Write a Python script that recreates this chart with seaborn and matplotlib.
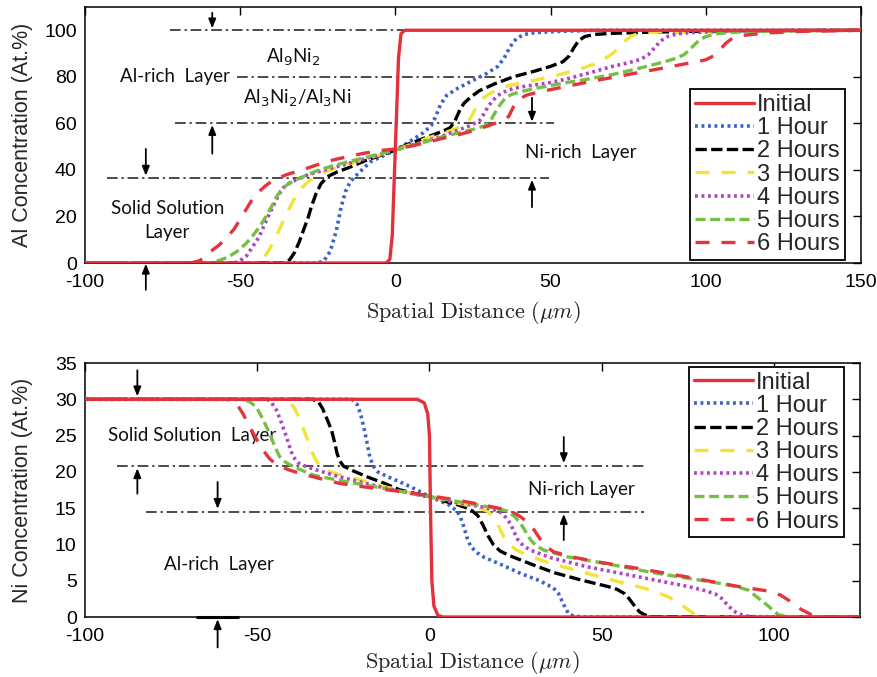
import matplotlib
matplotlib.use("Agg")
import matplotlib.pyplot as plt
import seaborn as sns
import pandas as pd

# ---------------- DATA ----------------
series_names = ["Initial", "1 Hour", "2 Hours", "3 Hours", "4 Hours", "5 Hours", "6 Hours"]

# Top panel: Al concentration (At.%) vs spatial distance (um)
al_x_initial = [-100, -3, -1.8, -1.0, -0.4, 0.0, 0.4, 1.0, 1.8, 3, 150]
al_y_initial = [0, 0, 1.5, 12, 35, 50, 65, 88, 98.5, 100, 100]

al_x_1h = [-100, -25, -23, -21, -19, -17.5, -16, -14.5, -12, -8, -4, 0, 5, 9, 11.5, 13, 14.5,
           16.5, 20, 25, 29.5, 33, 35, 37, 39, 41.5, 45, 52, 65, 150]
al_y_1h = [0, 0, 1, 5, 14, 24, 31, 35, 38.5, 43.5, 46, 48.5, 52.5, 56, 59, 63, 68,
           72, 75, 78.5, 81.5, 84.5, 88, 93, 96.5, 98.2, 99, 99.5, 100, 100]

al_x_2h = [-100, -36, -34, -32.5, -31, -29.5, -28, -27, -25.5, -24, -22, -19, -15, -10, -5, 0,
           4, 8, 12, 15, 17.5, 19, 20.5, 22, 24, 27, 32, 38, 45, 50, 54, 56, 57.5, 59, 61,
           64, 70, 80, 90, 110, 150]
al_y_2h = [0, 0, 1.5, 4.5, 9, 14.5, 20, 24.5, 30, 34, 37, 39, 41, 43.8, 46.2, 48.5,
           51, 53, 55, 56.5, 58, 60.5, 65, 68.5, 71, 74, 77, 80, 82.5, 84.5, 86.5, 89, 92.5, 95.5, 97.3,
           98.2, 98.7, 99.1, 99.4, 99.8, 100]

al_x_3h = [-100, -45, -43.5, -42, -40.5, -39, -37.5, -36, -34.5, -33, -31.5, -30, -28.5, -26,
           -23, -20, -15, -10, -5, 0, 5, 10, 13.5, 17, 20, 23, 24.5, 26, 28, 30, 32.5, 36, 40,
           44, 50, 55, 60, 64, 67, 70, 72.5, 74.5, 76, 78, 81, 85, 95, 110, 150]
al_y_3h = [0, 0, 1, 3, 6, 10, 14, 18.5, 22.5, 26.5, 30, 32.5, 34.5, 37,
           39, 40.5, 42.5, 44.5, 46.5, 48.5, 51, 53.5, 55, 56.5, 58, 60, 63, 67, 70.5, 72.5, 74.2, 76, 77.3,
           78.3, 80, 81.7, 83.5, 85.5, 87.5, 90, 93, 96, 97.5, 98.5, 99, 99.3, 99.6, 99.8, 100]

al_x_4h = [-100, -52, -50, -48, -46, -44, -42.5, -41, -39, -37.5, -36, -34, -31.5, -28, -24,
           -20, -15, -10, -5, 0, 5, 10, 15, 20, 24, 27, 28.5, 30, 31.5, 33, 35, 38, 42, 49, 55,
           62, 70, 75, 79, 81.5, 83.5, 85.5, 88, 91, 95, 105, 120, 150]
al_y_4h = [0, 0, 1, 3, 7, 11, 15.5, 20, 25.5, 29.5, 32.5, 34.5, 36, 38, 39.5,
           41, 42.8, 44.7, 46.6, 48.5, 50.5, 52.5, 54.5, 57, 59, 61, 64, 67.5, 70, 72, 73.5, 75, 76, 77.3, 79,
           81.5, 84.5, 86, 87.5, 89.5, 92.5, 95.5, 97.5, 98.5, 99, 99.5, 99.8, 100]

al_x_5h = [-100, -60, -57, -54, -51, -48, -45.5, -43.5, -41.5, -40, -38.5, -37, -35, -32.5, -29,
           -25, -20, -15, -10, -5, 0, 5, 10, 15, 20, 25, 29, 31, 32.5, 34, 35.5, 37.5, 41, 45,
           49, 55, 62, 70, 78, 86.5, 90, 93, 95, 97.3, 99.5, 103, 110, 120, 150]
al_y_5h = [0, 0, 1, 2.5, 5, 8.5, 12.5, 16, 20.5, 24, 28, 31, 33.5, 35.5, 37.5,
           39.8, 41.8, 43.6, 45.2, 47, 48.5, 50.3, 52.2, 54.2, 55.8, 57.4, 59, 62, 65.5, 68.5, 71, 72.5, 73.8, 75,
           76, 77.5, 79, 81, 83.5, 86.4, 87.8, 89.5, 92, 95, 97, 98.5, 99.2, 99.6, 100]

al_x_6h = [-100, -66, -63, -60, -57, -55, -52, -49, -46.5, -44.5, -42, -40, -38, -35, -30, -25,
           -20, -15, -10, -5, 0, 5, 10, 15, 20, 25, 30, 35, 36.5, 38, 39.5, 42, 46, 50, 55.5,
           65, 77, 86, 95, 100, 102.5, 104.5, 106.5, 108.5, 112, 119, 130, 150]
al_y_6h = [0, 0, 1, 4.5, 7.5, 10, 14.5, 21, 26.5, 30, 33, 35, 36.3, 38, 40, 42.3,
           44.3, 45.8, 47.2, 48.3, 49, 50.2, 51.8, 53.5, 55, 56.8, 59, 61.4, 63, 67, 70, 72, 73.5, 74.5, 76,
           78.5, 81.5, 83.7, 86, 87.3, 89, 91.5, 94.5, 96.5, 97.8, 98.8, 99.5, 100]

# Bottom panel: Ni concentration (At.%) vs spatial distance (um)
ni_x_initial = [-100, -3.5, -1.5, -0.5, 0.0, 0.3, 0.7, 1.3, 2.5, 4, 125]
ni_y_initial = [30, 30, 29.5, 28, 25, 15, 5, 1.5, 0.2, 0, 0]

ni_x_1h = [-100, -22.5, -21, -20, -19, -18.2, -17.3, -16.3, -15, -12, -8.5, -4, 0, 3, 5.5, 8,
           9, 10, 11, 12, 14, 16, 20, 26.5, 32, 36, 37.5, 38.5, 39.5, 40.5, 42, 45, 125]
ni_y_1h = [30, 30, 29.3, 28, 26, 24.2, 22, 20.8, 20, 19.3, 18.6, 17.6, 16.6, 16, 15.5, 14.6,
           13.8, 12.4, 10.8, 9.7, 8.8, 8.2, 7.4, 6, 5, 4, 3.2, 2.2, 1.2, 0.4, 0.1, 0, 0]

ni_x_2h = [-100, -34, -32.3, -31, -29.5, -28.4, -27.5, -26.8, -26, -25, -22, -18, -13, -8.5, -4,
           0, 4, 8, 11, 12.5, 14, 15.5, 17, 18.5, 20.5, 23, 30, 36.3, 44, 51.8, 54.5, 56.7, 58,
           59.6, 61, 62.5, 64, 125]
ni_y_2h = [30, 30, 29.7, 28.7, 27, 25.7, 24, 22.5, 21.5, 20.8, 20.1, 19.3, 18.4, 17.5, 17,
           16.6, 16, 15.5, 15, 14.6, 14, 12.7, 11.2, 10, 9.1, 8.5, 7.2, 6.1, 5.1, 4.2, 3.8, 3.2, 2.5,
           1.5, 0.7, 0.3, 0.05, 0]

ni_x_3h = [-100, -42, -40.5, -39.2, -38, -36.8, -35.7, -34.5, -33.2, -31.8, -29.8, -26, -20, -15,
           -10, -5, 0, 5, 10, 14, 16.8, 18.3, 19.7, 21.2, 22.6, 25, 28.5, 35, 46, 53, 60.5, 65,
           69.3, 72.5, 75.1, 77, 79, 125]
ni_y_3h = [30, 30, 29.5, 28.8, 27.6, 26.2, 24.8, 23.2, 21.8, 20.8, 20.2, 19.6, 18.9, 18.2,
           17.6, 17, 16.5, 16, 15.5, 15.1, 14.6, 13.9, 12.9, 11.4, 10.3, 9.3, 8.5, 7.4, 6, 5.1, 4.2, 3.6,
           2.8, 1.9, 1, 0.4, 0.05, 0]

ni_x_4h = [-100, -47, -45.8, -44.4, -43, -41.5, -40.5, -39.6, -38, -35.7, -31, -26, -20, -15,
           -10, -5, 0, 5, 10, 15, 18.5, 20.7, 22.2, 23.6, 24.6, 25.6, 27.3, 29.4, 35, 46, 60,
           75.1, 79.5, 82.9, 85, 86.8, 88.8, 90.7, 93, 125]
ni_y_4h = [30, 30, 29.5, 28.5, 26.8, 24.8, 23.3, 22.1, 21.2, 20.7, 20, 19.3, 18.6, 18,
           17.5, 17, 16.5, 16, 15.6, 15.2, 14.8, 14.4, 13.7, 12.8, 11.7, 10.7, 9.8, 9.2, 8.2, 6.9, 5.6,
           4.2, 3.7, 3.2, 2.5, 1.5, 0.7, 0.3, 0.05, 0]

ni_x_5h = [-100, -54, -52, -50.2, -48.3, -46.4, -45, -43.5, -42, -40.6, -37, -33.4, -27, -20,
           -13, -6, 0, 6, 12, 18, 22.6, 24.6, 26.5, 28, 29.4, 31, 33.3, 40, 50.8, 65, 84.8, 89,
           92.6, 95.5, 98.4, 100, 101.4, 104, 125]
ni_y_5h = [30, 30, 29.6, 28.9, 27.2, 25.3, 23.6, 22.1, 21.4, 21, 20.2, 19.5, 18.9, 18.3,
           17.7, 17.1, 16.6, 16.1, 15.6, 15.1, 14.6, 13.9, 12.9, 11.7, 10.6, 9.8, 9.2, 8.3, 7.4, 6.1, 4.6, 4.2,
           3.7, 2.6, 1.5, 0.8, 0.3, 0.05, 0]

ni_x_6h = [-100, -59, -57.5, -56, -54, -52.2, -50.2, -48.3, -46.4, -44.4, -41, -37.6, -32, -26,
           -17, -8.5, 0, 7, 15, 20, 24, 26.5, 29.4, 31.5, 33.3, 36, 41.1, 50, 60.5, 75, 89.7,
           99.4, 102, 104.3, 106, 108.1, 111, 114, 125]
ni_y_6h = [30, 30, 29.8, 29.4, 27.9, 26.2, 24.5, 23, 21.8, 21, 20.3, 19.8, 19.1, 18.4,
           17.8, 17.3, 16.7, 16.2, 15.5, 15, 14.5, 13.8, 12.7, 11.2, 9.9, 9, 8.3, 7.5, 6.7, 5.5, 4.2,
           3.5, 3, 2.3, 1.6, 1, 0.3, 0.05, 0]

# Layer boundaries (At.%) drawn as dash-dot guides
al_boundaries = [100, 80, 60, 36.5]
ni_boundaries = [20.8, 14.5]

al_x_data = [al_x_initial, al_x_1h, al_x_2h, al_x_3h, al_x_4h, al_x_5h, al_x_6h]
al_y_data = [al_y_initial, al_y_1h, al_y_2h, al_y_3h, al_y_4h, al_y_5h, al_y_6h]
ni_x_data = [ni_x_initial, ni_x_1h, ni_x_2h, ni_x_3h, ni_x_4h, ni_x_5h, ni_x_6h]
ni_y_data = [ni_y_initial, ni_y_1h, ni_y_2h, ni_y_3h, ni_y_4h, ni_y_5h, ni_y_6h]


def long_frame(xs, ys):
    rows = []
    for name, xv, yv in zip(series_names, xs, ys):
        for i, (a, b) in enumerate(zip(xv, yv)):
            rows.append({"series": name, "x": a, "y": b, "order": i})
    return pd.DataFrame(rows)


df_al = long_frame(al_x_data, al_y_data)
df_ni = long_frame(ni_x_data, ni_y_data)

# ---------------- STYLE ----------------
sns.set_style("white")
plt.rcParams["font.family"] = ["Liberation Sans", "DejaVu Sans"]
plt.rcParams["axes.unicode_minus"] = False

styles = {
    "Initial": dict(color="#e2313b", ls="-", lw=2.4, zorder=6),
    "1 Hour": dict(color="#3d62c6", ls=(0, (0.8, 1.0)), lw=2.6, zorder=4),
    "2 Hours": dict(color="#000000", ls=(0, (3.4, 1.3)), lw=2.4, zorder=4),
    "3 Hours": dict(color="#f2e335", ls=(0, (4.2, 3.6)), lw=2.4, zorder=4),
    "4 Hours": dict(color="#b044c4", ls=(0, (0.8, 1.0)), lw=2.6, zorder=4),
    "5 Hours": dict(color="#73c044", ls=(0, (3.0, 1.4)), lw=2.4, zorder=4),
    "6 Hours": dict(color="#e3343f", ls=(0, (4.2, 3.6)), lw=2.4, zorder=5),
}

fig = plt.figure(figsize=(8.78, 6.77), dpi=100)
ax1 = fig.add_axes([85 / 878, 1 - 263 / 677, 776 / 878, 256 / 677])
ax2 = fig.add_axes([85 / 878, 1 - 617 / 677, 775 / 878, 254 / 677])


def draw_curves(ax, df):
    for name in series_names:
        st = styles[name]
        sub = df[df["series"] == name].sort_values("order")
        sns.lineplot(data=sub, x="x", y="y", ax=ax, sort=False, estimator=None,
                     color=st["color"], linestyle=st["ls"], linewidth=st["lw"],
                     label=name, zorder=st["zorder"])


draw_curves(ax1, df_al)
draw_curves(ax2, df_ni)

ann_font = dict(family="Lato", fontsize=13.5, color="#111111")
guide = dict(color="#1a1a1a", lw=1.1, ls=(0, (7, 2.5, 1.5, 2.5)), zorder=2)
arrow = dict(arrowstyle="-|>,head_length=0.55,head_width=0.22", color="k", lw=1.3,
             shrinkA=0, shrinkB=0)


def arr(ax, x, y0, y1):
    ax.annotate("", xy=(x, y1), xytext=(x, y0), arrowprops=arrow, annotation_clip=False)


# ---- top panel annotations ----
ax1.plot([-72.5, 5], [al_boundaries[0]] * 2, **guide)
ax1.plot([-51, 34], [al_boundaries[1]] * 2, **guide)
ax1.plot([-71, 51], [al_boundaries[2]] * 2, **guide)
ax1.plot([-93, 49.5], [al_boundaries[3]] * 2, **guide)
arr(ax1, -59, 107.5, 100.8)
arr(ax1, -59, 47, 59.3)
arr(ax1, -80.4, 49, 37.5)
arr(ax1, -80.4, -11.5, -0.3)
arr(ax1, 44, 71, 60.7)
arr(ax1, 44, 24, 35.8)
ax1.text(-33, 88.4, "Al$_9$Ni$_2$", ha="center", va="center", math_fontfamily="dejavusans", **ann_font)
ax1.text(-71, 80, "Al-rich  Layer", ha="center", va="center", **ann_font)
ax1.text(-31.6, 70.8, "Al$_3$Ni$_2$/Al$_3$Ni", ha="center", va="center",
         math_fontfamily="dejavusans", **ann_font)
ax1.text(-73.5, 18.3, "Solid Solution\nLayer", ha="center", va="center", linespacing=1.5, **ann_font)
ax1.text(59.7, 47.6, "Ni-rich  Layer", ha="center", va="center", **ann_font)

# ---- bottom panel annotations ----
ax2.plot([-90.6, 62.4], [ni_boundaries[0]] * 2, **guide)
ax2.plot([-82.3, 62.4], [ni_boundaries[1]] * 2, **guide)
arr(ax2, -84.8, 34, 30.4)
arr(ax2, -84.8, 17, 20.5)
arr(ax2, -61.5, 18.6, 14.9)
arr(ax2, -61.5, -4.2, -0.3)
arr(ax2, 39, 24.8, 21.2)
arr(ax2, 39, 10.6, 14.2)
ax2.plot([-67.5, -55.7], [0, 0], color="k", lw=2.2, clip_on=False, zorder=7)
ax2.text(-68.8, 25, "Solid Solution  Layer", ha="center", va="center", **ann_font)
ax2.text(-61, 7.2, "Al-rich  Layer", ha="center", va="center", **ann_font)
ax2.text(44, 17.6, "Ni-rich Layer", ha="center", va="center", **ann_font)

# ---- axes formatting ----
xlabel = r"$\mathrm{Spatial\ Distance}\ (\mu m)$"
for ax in (ax1, ax2):
    ax.tick_params(direction="in", top=True, right=True, length=6, width=1,
                   labelsize=14, colors="k")
    ax.tick_params(axis="x", pad=8)
    ax.tick_params(axis="y", pad=6)
    for sp in ax.spines.values():
        sp.set_color("k")
        sp.set_linewidth(1.1)
    ax.set_xlabel(xlabel, fontsize=16, math_fontfamily="cm", color="#222222")

ax1.set_xlim(-100, 150)
ax1.set_ylim(0, 110)
ax1.set_xticks([-100, -50, 0, 50, 100, 150])
ax1.set_yticks([0, 20, 40, 60, 80, 100])
ax1.set_ylabel("Al Concentration (At.%)", fontsize=15.5)
ax1.yaxis.set_label_coords(-0.067, 0.5)
ax1.xaxis.set_label_coords(0.5, -0.14)

ax2.set_xlim(-100, 125)
ax2.set_ylim(0, 35)
ax2.set_xticks([-100, -50, 0, 50, 100])
ax2.set_yticks([0, 5, 10, 15, 20, 25, 30, 35])
ax2.set_ylabel("Ni Concentration (At.%)", fontsize=15.5)
ax2.yaxis.set_label_coords(-0.067, 0.5)
ax2.xaxis.set_label_coords(0.5, -0.125)

leg_kw = dict(frameon=True, fancybox=False, edgecolor="k", framealpha=1, fontsize=17,
              handlelength=2.5, handletextpad=0.15, labelspacing=0.05, borderpad=0.2,
              borderaxespad=0)
h1, l1 = ax1.get_legend_handles_labels()
lg1 = ax1.legend(h1, l1, loc="lower right", bbox_to_anchor=(0.979, 0.012), **leg_kw)
lg1.get_frame().set_linewidth(1.3)
lg1.set_zorder(10)
h2, l2 = ax2.get_legend_handles_labels()
lg2 = ax2.legend(h2, l2, loc="upper right", bbox_to_anchor=(0.979, 0.985), **leg_kw)
lg2.get_frame().set_linewidth(1.3)
lg2.set_zorder(10)

fig.savefig("out.png", dpi=100)
